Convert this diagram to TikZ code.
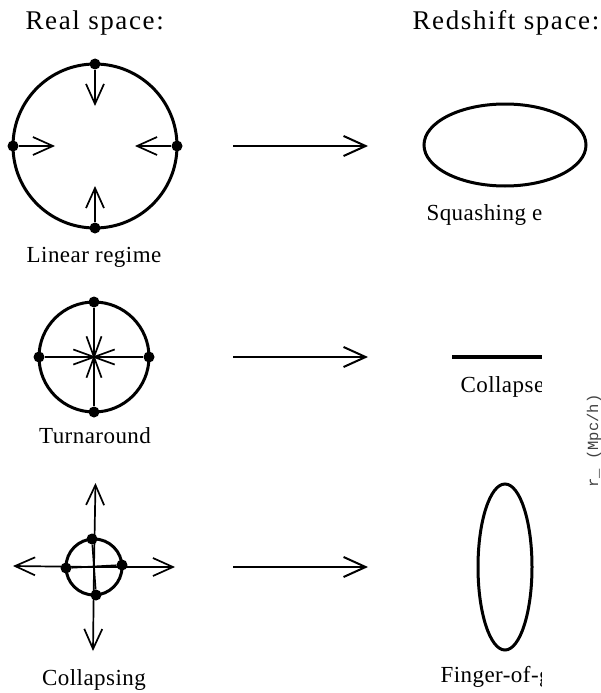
\documentclass[tikz,border=0pt]{standalone}
\usepackage{fontspec}
\setmainfont{Liberation Serif}
\setmonofont{Liberation Mono}
\usetikzlibrary{arrows.meta,calc}

\newcommand\hdfont{\fontsize{27}{29}\selectfont\addfontfeatures{LetterSpace=6}}
\newcommand\lbfont{\fontsize{23}{25}\selectfont\addfontfeatures{LetterSpace=2}}
\newcommand\axfont{\ttfamily\fontsize{15.5}{16}\selectfont}

\begin{document}
\begin{tikzpicture}[
    x=1pt,y=-1pt,
    shell/.style={line width=3pt},
    chord/.style={line width=1.7pt},
    flow/.style={line width=1.7pt,-{Straight Barb[length=20pt,width=18pt]}},
    map/.style={line width=2pt,-{Straight Barb[length=22pt,width=20pt]}},
    blob/.style={circle,fill,inner sep=0pt,minimum size=11pt},
    head/.style={font=\hdfont,anchor=base west},
    lbl/.style={font=\lbfont,anchor=base},
    cut/.style={font=\lbfont,anchor=base west}
]
    \useasboundingbox (0,0) rectangle (601,693);

    % Titles
    \node[head] (realt) at (22,30) {Real space:};
    \node[head] (redt) at (409,30) {Redshift space:};

    % Linear regime -- top
    \coordinate (lin) at (95,146);
    \draw[shell] (lin) circle (82);
    \foreach \a/\s in {0/e,90/s,180/w,270/n} {
        \node[blob] (lin\s) at ($(lin)+(\a:82)$) {};
        \coordinate (lin\s tip) at ($(lin)+(\a:40)$);
        \draw[flow] (lin\s) -- (lin\s tip);
    }
    \node[lbl] (linl) at (94,262) {Linear regime};

    % Turnaround -- middle
    \coordinate (turn) at (94,357);
    \draw[shell] (turn) circle (55);
    \foreach \a/\s in {0/e,90/s,180/w,270/n}
        \node[blob] (turn\s) at ($(turn)+(\a:55)$) {};
    \draw[chord] (turnw) -- (turne);
    \draw[chord] (turnn) -- (turns);
    \foreach \a in {20,70,110,160}
        \draw[chord] ($(turn)+(\a:22)$) -- ($(turn)+(\a+180:22)$);
    \node[lbl] (turnl) at (95,443) {Turnaround};

    % Collapsing -- bottom
    \coordinate (col) at (94,567);
    \draw[shell] (col) circle (28);
    \node[blob] (coln) at (92,539) {};
    \node[blob] (cols) at (96,595) {};
    \node[blob] (colw) at (66,568) {};
    \node[blob] (cole) at (122,565) {};
    \draw[chord] (coln) -- (cols);
    \draw[chord] (colw) -- (cole);
    \coordinate (colntip) at (95.5,483);
    \coordinate (colstip) at (93,651);
    \coordinate (colwtip) at (13,566);
    \coordinate (coletip) at (175,567);
    \foreach \s in {n,s,w,e}
        \draw[flow] (col) -- (col\s tip);
    \node[lbl] (coll) at (94,685) {Collapsing};

    % Real -> redshift space
    \foreach \y/\r in {146/lin,357/turn,567/col} {
        \coordinate (\r src) at (233,\y);
        \coordinate (\r dst) at (368,\y);
        \draw[map] (\r src) -- (\r dst);
    }

    % Redshift space shapes
    \draw[shell] (505,145) ellipse (81 and 41);
    \draw[line width=3.5pt] (452,357) -- (542,357);
    \draw[shell] (505,567) ellipse (27 and 83);
    \begin{scope}
        \clip (400,190) rectangle (541,693);
        \node[cut] (squl) at (423,220) {Squashing e};
        \node[cut] (clpl) at (457,392) {Collapse};
        \node[cut] (fogl) at (437,682) {Finger-of-g};
    \end{scope}

    % axis label on the right
    \node[font=\axfont,text=black!75,rotate=90] (rlab) at (594,441) {r\_ (Mpc/h)};
\end{tikzpicture}
\end{document}
